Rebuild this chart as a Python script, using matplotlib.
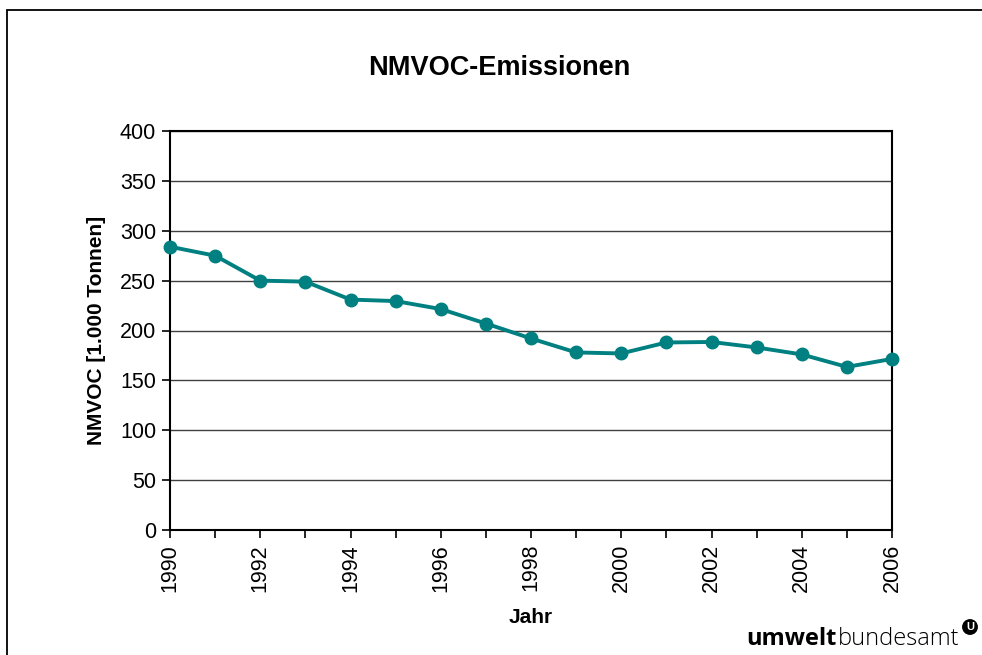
import matplotlib.pyplot as plt
from matplotlib.patches import Rectangle

years = list(range(1990, 2007))
nmvoc = [284, 275, 250, 249, 231, 229.5, 221.5, 207, 192, 178, 177,
         188, 188.5, 183, 176, 163.5, 171.5]
year_labels = [str(y) if y % 2 == 0 else "" for y in years]
y_ticks = list(range(0, 401, 50))

plt.rcParams["font.family"] = ["Liberation Sans", "DejaVu Sans"]

W, H = 982, 655
fig = plt.figure(figsize=(W / 100, H / 100), dpi=100)

# outer frame (right and bottom edges run off the picture)
fig.patches.append(Rectangle((7 / W, -0.05), 1.2, 1 - 10 / H + 0.05,
                             transform=fig.transFigure, fill=False,
                             edgecolor="black", linewidth=1.3))

ax = fig.add_axes([170 / W, (H - 530) / H, 722 / W, 399 / H])

ax.plot(years, nmvoc, color="#008080", linewidth=2.8, marker="o",
        markersize=9, clip_on=False, zorder=3)

ax.set_xlim(1990, 2006)
ax.set_ylim(0, 400)
ax.set_xticks(years)
ax.set_xticklabels(year_labels, rotation=90)
ax.set_yticks(y_ticks)
ax.yaxis.grid(True, color="#404040", linewidth=1.0)
ax.set_axisbelow(True)
ax.tick_params(axis="both", labelsize=15.5, direction="out", length=6,
               width=1.2, colors="black")
ax.tick_params(axis="y", pad=4)
ax.tick_params(axis="x", pad=4)
for s in ax.spines.values():
    s.set_linewidth(1.5)

ax.set_xlabel("Jahr", fontsize=15, fontweight="bold", labelpad=11)
ax.set_ylabel("NMVOC [1.000 Tonnen]", fontsize=15, fontweight="bold",
              labelpad=10)
fig.text(499 / W, 1 - 68 / H, "NMVOC-Emissionen", ha="center", va="center",
         fontsize=19.5, fontweight="bold")

# logo
fig.text(837 / W, 1 - 645 / H, "umwelt", ha="right", va="baseline",
         fontsize=17, fontweight="bold", family="Open Sans")
fig.text(838 / W, 1 - 645 / H, "bundesamt", ha="left", va="baseline",
         fontsize=17, fontweight="light", family="Open Sans")
fig.text(970 / W, 1 - 627 / H, "U", ha="center", va="center", fontsize=8,
         fontweight="bold", color="white",
         bbox=dict(boxstyle="circle,pad=0.2", fc="black", ec="black"))

fig.savefig("out.png", dpi=100)
